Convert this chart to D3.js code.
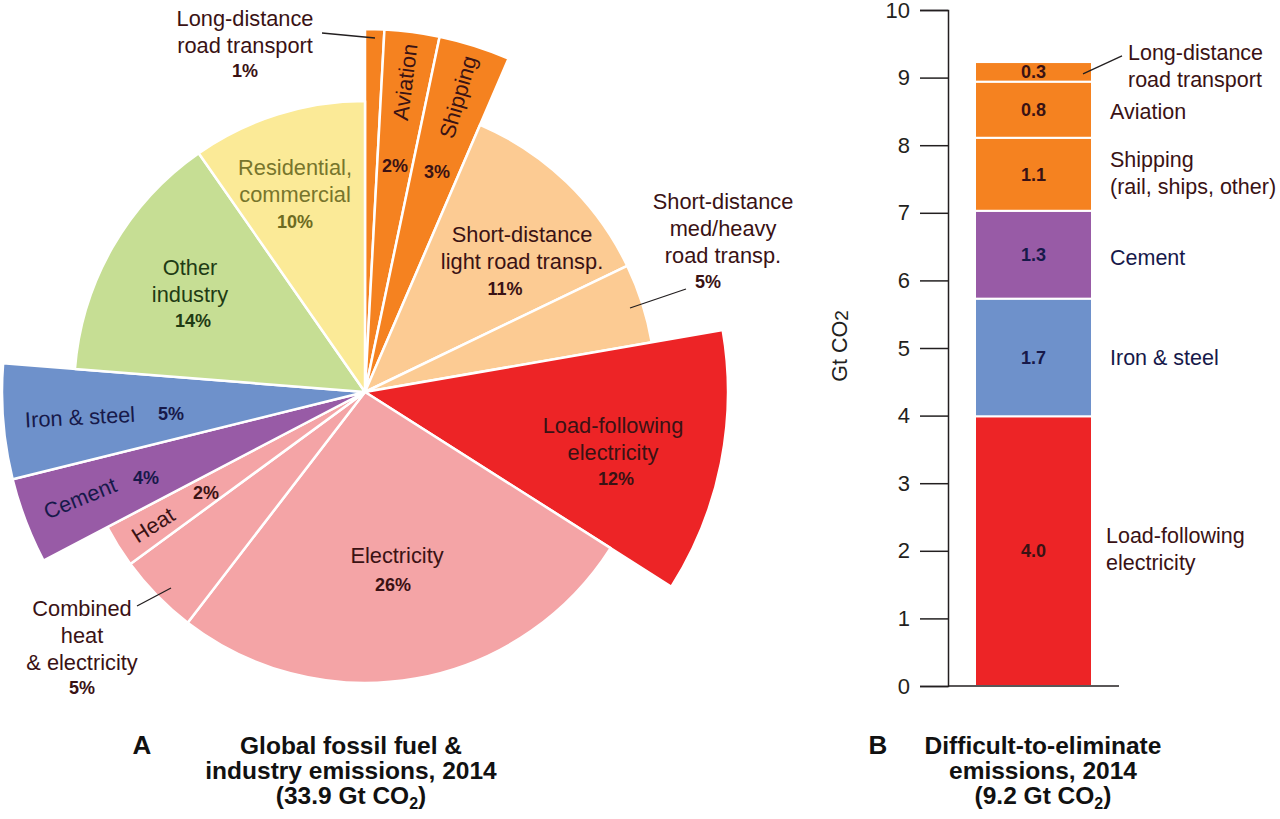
<!DOCTYPE html>
<html>
<head>
<meta charset="utf-8">
<script src="https://cdn.jsdelivr.net/npm/d3@7"></script>
<style>
  html, body { margin: 0; padding: 0; background: #fff; }
  svg { display: block; font-family: "Liberation Sans", Arial, Helvetica, sans-serif; }
</style>
</head>
<body>
<svg id="chart" width="1280" height="819"></svg>
<script>
// ---------------- DATA ----------------
// Panel A: global fossil fuel & industry emissions 2014 (Gt CO2)
const pieCategories = [
  "Long-distance road transport", "Aviation", "Shipping",
  "Short-distance light road transp.", "Short-distance med/heavy road transp.",
  "Load-following electricity", "Electricity", "Combined heat & electricity",
  "Heat", "Cement", "Iron & steel", "Other industry", "Residential, commercial"
];
const pieValues = [0.29, 0.83, 1.08, 3.87, 1.50, 3.99, 8.98, 1.53, 0.81, 1.30, 1.74, 4.78, 3.29];
const piePercentLabels = ["1%", "2%", "3%", "11%", "5%", "12%", "26%", "5%", "2%", "4%", "5%", "14%", "10%"];
const pieDifficult = [true, true, true, false, false, true, false, false, false, true, true, false, false];

// Panel B: difficult-to-eliminate emissions 2014 (Gt CO2), bottom to top
const barCategories = ["Load-following electricity", "Iron & steel", "Cement", "Shipping", "Aviation", "Long-distance road transport"];
const barValues = [3.99, 1.74, 1.30, 1.08, 0.83, 0.29];
const barValueLabels = ["4.0", "1.7", "1.3", "1.1", "0.8", "0.3"];
const yTicks = [0, 1, 2, 3, 4, 5, 6, 7, 8, 9, 10];

// ---------------- STYLE ----------------
const colorOf = {
  "Long-distance road transport": "#f58220",
  "Aviation": "#f58220",
  "Shipping": "#f58220",
  "Short-distance light road transp.": "#fccb93",
  "Short-distance med/heavy road transp.": "#fccb93",
  "Load-following electricity": "#ed2426",
  "Electricity": "#f4a4a6",
  "Combined heat & electricity": "#f4a4a6",
  "Heat": "#f4a4a6",
  "Cement": "#985ba6",
  "Iron & steel": "#6e91cb",
  "Other industry": "#c6de94",
  "Residential, commercial": "#fbea97"
};
const BROWN = "#3a1214", NAVY = "#17194a", GREEN = "#1f3b14", OLIVE = "#77752c";

const svg = d3.select("#chart");

// ---------------- PANEL A: PIE ----------------
const cx = 365, cy = 392;
const rNormal = 291, rDifficult = 363;

const pie = d3.pie().sort(null).value(d => d.value);
const pieData = pie(pieCategories.map((c, i) => ({ cat: c, value: pieValues[i], difficult: pieDifficult[i] })));
const arc = d3.arc().innerRadius(0).outerRadius(d => d.data.difficult ? rDifficult : rNormal);

const gPie = svg.append("g").attr("transform", `translate(${cx},${cy})`);
gPie.selectAll("path.slice").data(pieData).join("path")
  .attr("class", "slice")
  .attr("d", arc)
  .attr("fill", d => colorOf[d.data.cat])
  .attr("stroke", "#fff")
  .attr("stroke-width", 2.5)
  .attr("stroke-linejoin", "round");

// label layout (absolute positions of text annotations)
const pieLabelLayout = [
  { lines: ["Long-distance", "road transport"], x: 245, y: 18, pct: [245, 71], color: BROWN, leader: [[322, 33], [375, 38]] },
  { lines: ["Aviation"], x: 405, y: 82, rot: -82.8, pct: [395, 166], color: BROWN },
  { lines: ["Shipping"], x: 458, y: 97, rot: -73.8, pct: [437, 172], color: BROWN },
  { lines: ["Short-distance", "light road transp."], x: 522, y: 234, pct: [505, 289], color: BROWN },
  { lines: ["Short-distance", "med/heavy", "road transp."], x: 723, y: 201, pct: [708, 282], color: BROWN, leader: [[630, 308], [686, 289]] },
  { lines: ["Load-following", "electricity"], x: 613, y: 425, pct: [616, 479], color: BROWN },
  { lines: ["Electricity"], x: 397, y: 555, pct: [393, 585], color: BROWN },
  { lines: ["Combined", "heat", "& electricity"], x: 82, y: 608, pct: [82, 688], color: BROWN, leader: [[137, 606], [171, 588]] },
  { lines: ["Heat"], x: 153, y: 525, rot: -32.4, pct: [206, 493], color: BROWN },
  { lines: ["Cement"], x: 80, y: 498, rot: -22, pct: [146, 478], color: NAVY },
  { lines: ["Iron & steel"], x: 80, y: 417, rot: -3, pct: [171, 414], color: NAVY },
  { lines: ["Other", "industry"], x: 190, y: 267, pct: [193, 321], color: GREEN },
  { lines: ["Residential,", "commercial"], x: 295, y: 167, pct: [295, 222], color: OLIVE }
];

const gLab = svg.append("g");
pieLabelLayout.forEach((L, i) => {
  if (L.leader) {
    gLab.append("line")
      .attr("x1", L.leader[0][0]).attr("y1", L.leader[0][1])
      .attr("x2", L.leader[1][0]).attr("y2", L.leader[1][1])
      .attr("stroke", "#231f20").attr("stroke-width", 1.3);
  }
  const t = gLab.append("text")
    .attr("text-anchor", "middle")
    .attr("font-size", 21.8)
    .attr("fill", L.color)
    .attr("transform", `translate(${L.x},${L.y})` + (L.rot ? ` rotate(${L.rot})` : ""));
  L.lines.forEach((ln, k) => {
    t.append("tspan").attr("x", 0).attr("y", k * 27).attr("dy", "0.35em").text(ln);
  });
  gLab.append("text")
    .attr("x", L.pct[0]).attr("y", L.pct[1]).attr("dy", "0.35em")
    .attr("text-anchor", "middle")
    .attr("font-size", 18).attr("font-weight", "bold")
    .attr("fill", L.color === OLIVE ? "#6d6b22" : L.color)
    .text(piePercentLabels[i]);
});

// ---------------- PANEL B: STACKED BAR ----------------
const y = d3.scaleLinear().domain([0, 10]).range([686, 10]);
const axisX = 948, barX0 = 975, barX1 = 1092;

const stackRows = [];
let acc = 0;
barCategories.forEach((c, i) => {
  stackRows.push({ cat: c, y0: acc, y1: acc + barValues[i], label: barValueLabels[i] });
  acc += barValues[i];
});

const gBar = svg.append("g");
gBar.selectAll("rect").data(stackRows).join("rect")
  .attr("x", barX0)
  .attr("width", barX1 - barX0)
  .attr("y", d => y(d.y1))
  .attr("height", d => y(d.y0) - y(d.y1))
  .attr("fill", d => colorOf[d.cat])
  .attr("stroke", "#fff")
  .attr("stroke-width", 2);

gBar.selectAll("text.val").data(stackRows).join("text")
  .attr("class", "val")
  .attr("x", (barX0 + barX1) / 2)
  .attr("y", d => (y(d.y0) + y(d.y1)) / 2)
  .attr("dy", "0.35em")
  .attr("text-anchor", "middle")
  .attr("font-size", 18).attr("font-weight", "bold")
  .attr("fill", d => (d.cat === "Cement" || d.cat === "Iron & steel") ? NAVY : BROWN)
  .text(d => d.label);

// axis
const axis = d3.axisLeft(y).tickValues(yTicks).tickSize(28).tickPadding(10).tickFormat(d3.format("d"));
const gAxis = svg.append("g").attr("transform", `translate(${axisX},0)`).call(axis);
gAxis.select(".domain").attr("stroke", "#231f20").attr("stroke-width", 1.5);
gAxis.selectAll(".tick line").attr("stroke", "#231f20").attr("stroke-width", 1.5);
gAxis.selectAll(".tick text").attr("font-size", 22).attr("fill", "#231f20")
  .attr("font-family", "\"Liberation Sans\", Arial, sans-serif");
// baseline extension
svg.append("line")
  .attr("x1", axisX).attr("x2", 1119)
  .attr("y1", y(0)).attr("y2", y(0))
  .attr("stroke", "#231f20").attr("stroke-width", 1.5);

// y-axis title
const yt = svg.append("text")
  .attr("transform", "translate(847,346) rotate(-90)")
  .attr("text-anchor", "middle")
  .attr("font-size", 21.5).attr("fill", "#231f20");
yt.append("tspan").text("Gt CO");
yt.append("tspan").attr("font-size", 19).attr("dy", 1).text("2");

// right-side labels
const barLabelLayout = [
  { lines: ["Load-following", "electricity"], x: 1106, dy: -2, color: BROWN },
  { lines: ["Iron & steel"], x: 1110, dy: 0, color: NAVY },
  { lines: ["Cement"], x: 1110, dy: 3, color: NAVY },
  { lines: ["Shipping", "(rail, ships, other)"], x: 1110, dy: -1, color: BROWN },
  { lines: ["Aviation"], x: 1110, dy: 2, color: BROWN },
  { lines: ["Long-distance", "road transport"], x: 1128, dy: -6, color: BROWN, leader: true }
];
stackRows.forEach((d, i) => {
  const L = barLabelLayout[i];
  const mid = (y(d.y0) + y(d.y1)) / 2 + L.dy;
  const n = L.lines.length;
  const t = svg.append("text").attr("font-size", 21.5).attr("fill", L.color);
  L.lines.forEach((ln, k) => {
    t.append("tspan").attr("x", L.x).attr("y", mid + (k - (n - 1) / 2) * 27).attr("dy", "0.35em").text(ln);
  });
  if (L.leader) {
    const ly = (y(d.y0) + y(d.y1)) / 2;
    svg.append("line")
      .attr("x1", barX1 - 9).attr("y1", ly + 2)
      .attr("x2", L.x - 6).attr("y2", ly - 16)
      .attr("stroke", "#231f20").attr("stroke-width", 1.3);
  }
});

// ---------------- TITLES ----------------
function title(letterX, cxT, spec) {
  svg.append("text").attr("x", letterX).attr("y", 745).attr("dy", "0.35em")
    .attr("text-anchor", "middle").attr("font-size", 26).attr("font-weight", "bold")
    .attr("fill", "#111").text(spec.letter);
  spec.rows.forEach((r, k) => {
    const t = svg.append("text").attr("x", cxT).attr("y", 745 + k * 25).attr("dy", "0.35em")
      .attr("text-anchor", "middle").attr("font-size", 24.5).attr("font-weight", "bold").attr("fill", "#111");
    if (typeof r === "object") {
      t.append("tspan").text(r.pre);
      t.append("tspan").attr("font-size", 16).attr("dy", 5).text(r.subText);
      t.append("tspan").attr("dy", -5).text(r.post);
    } else {
      t.text(r);
    }
  });
}
title(142, 351, { letter: "A", rows: ["Global fossil fuel &", "industry emissions, 2014", { pre: "(33.9 Gt CO", subText: "2", post: ")" }] });
title(878, 1043, { letter: "B", rows: ["Difficult-to-eliminate", "emissions, 2014", { pre: "(9.2 Gt CO", subText: "2", post: ")" }] });
</script>
</body>
</html>
